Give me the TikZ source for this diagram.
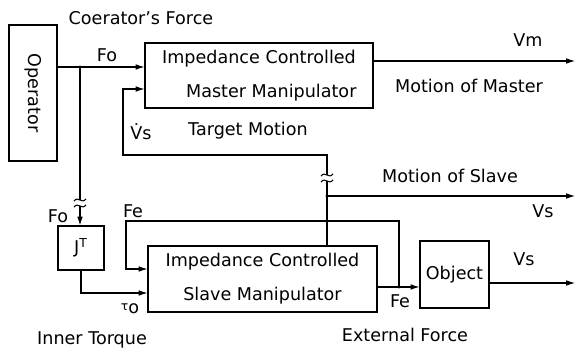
\documentclass[tikz,border=0pt]{standalone}
\usepackage{fontspec}
\setmainfont{DejaVu Sans}
\usetikzlibrary{arrows.meta}
\tikzset{brk/.pic={\draw[line width=0.6pt] (-6,1.2) .. controls (-2,-5) and (2,5) .. (6,-1.2);}}

\begin{document}
\begin{tikzpicture}[x=0.02cm,y=-0.02cm,font=\fontsize{10}{12}\selectfont,
  blk/.style={draw,line width=0.6pt,inner sep=0pt},
  wire/.style={line width=0.6pt},
  arr/.style={-{Latex[length=5pt,width=3.2pt]}}]
\useasboundingbox (0,0) rectangle (579,351);

% blocks
\node[blk,minimum width=0.96cm,minimum height=2.72cm] (op) at (33,93) {\rotatebox{-90}{Operator}};
\node[blk,minimum width=4.56cm,minimum height=1.3cm,align=center] (master) at (259,75.5) {Impedance Controlled\\[7.5pt]\hspace*{14pt}Master Manipulator};
\node[blk,minimum width=0.92cm,minimum height=0.88cm] (jt) at (81,248) {J\textsuperscript{T}};
\node[blk,minimum width=4.58cm,minimum height=1.32cm,align=center] (slave) at (262.5,279) {Impedance Controlled\\[7.5pt]Slave Manipulator};
\node[blk,minimum width=1.38cm,minimum height=1.34cm] (obj) at (454.5,274.5) {Object};

% points
\coordinate (fo) at (80,67);
\coordinate (brkA1) at (80,200);
\coordinate (brkA2) at (80,206);
\coordinate (vm) at (575,61);
\coordinate (vsin) at (0,89);
\coordinate (tgt) at (123,155);
\coordinate (brkB2) at (327,175);
\coordinate (brkB1) at (327,181);
\coordinate (vsj) at (327,196);
\coordinate (vsout) at (575,196);
\coordinate (fej) at (399,287);
\coordinate (fetop) at (126,221);
\coordinate (fein) at (0,269);
\coordinate (tauin) at (0,293);
\coordinate (vsobj) at (575,283);

% connectors
\draw[wire] (op.east |- fo) -- (fo);
\draw[wire,arr] (fo) -- (master.west |- fo);
\draw[wire,arr] (master.east |- vm) -- (vm);
\draw[wire] (fo) -- (brkA1);
\draw[wire,arr] (brkA2) -- (jt.north -| brkA2);
\draw[wire,arr] (jt.south) |- (slave.west |- tauin);
\draw[wire] (slave.north -| vsj) -- (vsj) -- (brkB1);
\draw[wire,arr] (brkB2) |- (tgt) |- (master.west |- vsin);
\draw[wire,arr] (vsj) -- (vsout);
\draw[wire,arr] (slave.east |- fej) -- (obj.west |- fej);
\draw[wire,arr] (fej) |- (fetop) |- (slave.west |- fein);
\draw[wire,arr] (obj.east |- vsobj) -- (vsobj);
\fill (fo) circle (0.9pt) (vsj) circle (0.9pt) (fej) circle (0.9pt);
\pic at (brkA1) {brk};
\pic at (brkA2) {brk};
\pic at (brkB1) {brk};
\pic at (brkB2) {brk};

% labels
\node (lopf) at (141,18) {Coerator's Force};
\node (lfo) at (107,55) {Fo};
\node (lvm) at (528,40) {Vm};
\node (lmm) at (469,86) {Motion of Master};
\node (lvsd) at (141,132) {\.{V}s};
\node (ltm) at (248,131) {Target Motion};
\node (lms) at (450,176) {Motion of Slave};
\node (lvs1) at (543,211) {Vs};
\node (lfe1) at (133,211) {Fe};
\node (lfo2) at (58,216) {Fo};
\node (ltau) at (130,309) {\raisebox{2pt}{\scriptsize τ}o};
\node (lit) at (92,340) {Inner Torque};
\node (lfe2) at (400,301) {Fe};
\node (lvs2) at (524,259) {Vs};
\node (lef) at (405,335) {External Force};
\end{tikzpicture}
\end{document}
